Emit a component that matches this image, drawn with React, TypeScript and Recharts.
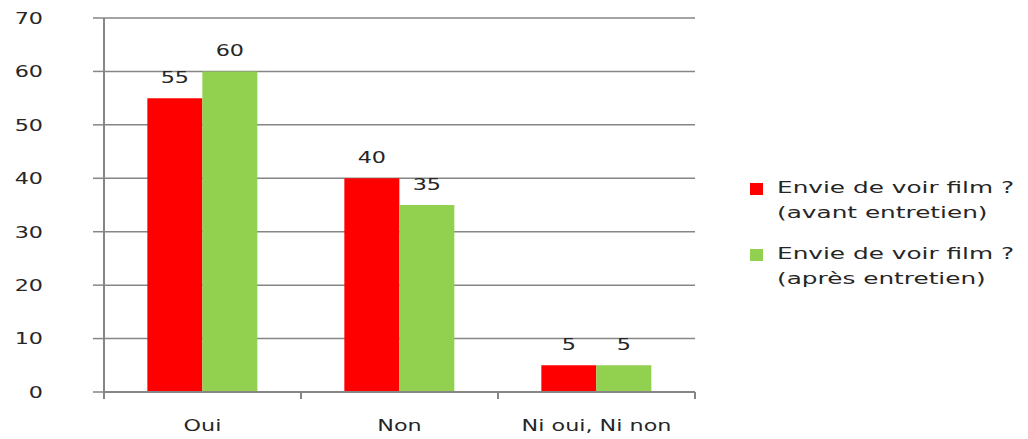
import { BarChart, Bar, XAxis, YAxis, CartesianGrid, LabelList } from "recharts";

const categories = ["Oui", "Non", "Ni oui, Ni non"];
const avantEntretien = [55, 40, 5];
const apresEntretien = [60, 35, 5];
const yTicks = [0, 10, 20, 30, 40, 50, 60, 70];
const seriesLabels = [
  ["Envie de voir film ?", "(avant entretien)"],
  ["Envie de voir film ?", "(après entretien)"],
];

const data = categories.map((name, i) => ({
  name,
  avant: avantEntretien[i],
  apres: apresEntretien[i],
}));

const W = 1028;
const H = 439;
const LEFT = 104;
const RIGHT = 695;
const TOP = 18;
const BOTTOM = 392;
const HALF_BAND = (RIGHT - LEFT) / categories.length / 2;

const FONT = "'DejaVu Sans', sans-serif";
const TEXT = "#262626";
const AXIS = "#868686";
const RED = "#FF0000";
const GREEN = "#92D050";
const STRETCH = 1.35;
const SIZE = 16.5;

function YTick({ x, y, payload }: any) {
  return (
    <text
      transform={`translate(${x},${y}) scale(${STRETCH},1)`}
      textAnchor="end"
      dy="0.35em"
      fontFamily={FONT}
      fontSize={SIZE}
      fill={TEXT}
    >
      {payload.value}
    </text>
  );
}

function XTick({ x, payload }: any) {
  return (
    <g>
      <line x1={x - HALF_BAND} x2={x - HALF_BAND} y1={BOTTOM} y2={BOTTOM + 7} stroke={AXIS} strokeWidth={2} />
      <line x1={x + HALF_BAND} x2={x + HALF_BAND} y1={BOTTOM} y2={BOTTOM + 7} stroke={AXIS} strokeWidth={2} />
      <text
        transform={`translate(${x},${BOTTOM + 39}) scale(${STRETCH},1)`}
        textAnchor="middle"
        fontFamily={FONT}
        fontSize={SIZE}
        fill={TEXT}
      >
        {payload.value}
      </text>
    </g>
  );
}

function BarLabel({ x, y, width, value }: any) {
  return (
    <text
      transform={`translate(${x + width / 2},${y - 15}) scale(${STRETCH},1)`}
      textAnchor="middle"
      fontFamily={FONT}
      fontSize={SIZE}
      fill={TEXT}
    >
      {value}
    </text>
  );
}

function LegendBox() {
  const colors = [RED, GREEN];
  return (
    <div
      style={{
        position: "absolute",
        left: 750,
        top: 182,
        fontFamily: FONT,
        fontSize: SIZE,
        color: TEXT,
      }}
    >
      {seriesLabels.map((lines, i) => (
        <div key={i} style={{ position: "relative", height: 66 }}>
          <div
            style={{
              position: "absolute",
              left: 0,
              top: 1,
              width: 13,
              height: 12,
              background: colors[i],
            }}
          />
          {lines.map((line, j) => (
            <div
              key={j}
              style={{
                position: "absolute",
                left: 27,
                top: j * 25 - 4,
                whiteSpace: "nowrap",
                transform: "scale(1.5,1)",
                transformOrigin: "left center",
              }}
            >
              {line}
            </div>
          ))}
        </div>
      ))}
    </div>
  );
}

export default function App() {
  return (
    <div style={{ position: "absolute", left: 0, top: 0, width: W, height: H, background: "#fff" }}>
      <BarChart
        width={W}
        height={H}
        data={data}
        margin={{ top: TOP, right: W - RIGHT, bottom: 0, left: 0 }}
        barCategoryGap="22%"
        barGap={0}
      >
        <CartesianGrid vertical={false} stroke={AXIS} strokeWidth={1.5} />
        <XAxis
          dataKey="name"
          axisLine={{ stroke: AXIS, strokeWidth: 2 }}
          tickLine={false}
          tickSize={0}
          tickMargin={0}
          tick={<XTick />}
          interval={0}
          height={H - BOTTOM}
        />
        <YAxis
          width={LEFT}
          domain={[0, 70]}
          ticks={yTicks}
          axisLine={{ stroke: AXIS, strokeWidth: 2 }}
          tickLine={{ stroke: AXIS, strokeWidth: 1.5 }}
          tickSize={11}
          tickMargin={50}
          tick={<YTick />}
          interval={0}
        />
        <Bar dataKey="avant" fill={RED} isAnimationActive={false}>
          <LabelList dataKey="avant" content={<BarLabel />} />
        </Bar>
        <Bar dataKey="apres" fill={GREEN} isAnimationActive={false}>
          <LabelList dataKey="apres" content={<BarLabel />} />
        </Bar>
      </BarChart>
      <LegendBox />
    </div>
  );
}
